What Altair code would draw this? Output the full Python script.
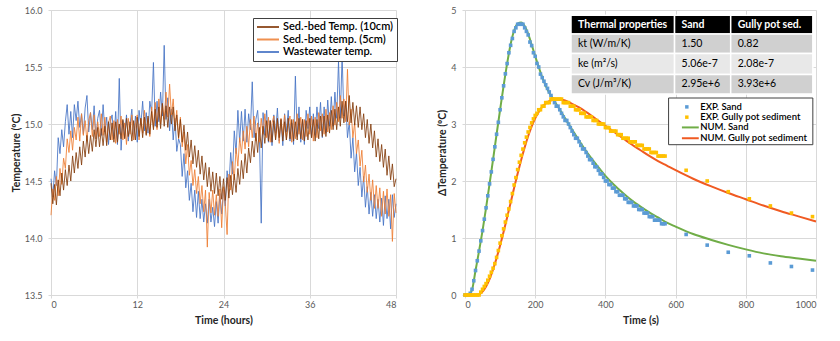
import altair as alt
import pandas as pd

FONT = "Lato"

# ---------------- Left panel: sediment-bed / wastewater temperatures ----------------
LEFT_SERIES = ["Sed.-bed Temp. (10cm)", "Sed.-bed temp. (5cm)", "Wastewater temp."]
LEFT_COLORS = ["#843c0c", "#ed7d31", "#4472c4"]
HOUR_STEP = 0.25
LEFT_X_TICKS = [0, 12, 24, 36, 48]
LEFT_Y_TICKS = [13.5, 14.0, 14.5, 15.0, 15.5, 16.0]

SED_10CM = [
    14.48, 14.30, 14.47, 14.29, 14.51, 14.37, 14.57, 14.42, 14.60, 14.46, 14.64, 14.50,
    14.72, 14.57, 14.75, 14.61, 14.80, 14.64, 14.85, 14.71, 14.90, 14.74, 14.90, 14.76,
    14.95, 14.80, 14.97, 14.80, 14.96, 14.81, 14.98, 14.81, 15.02, 14.86, 15.01, 14.84,
    15.02, 14.84, 15.00, 14.87, 15.04, 14.87, 15.05, 14.89, 15.02, 14.85, 15.03, 14.86,
    15.06, 14.89, 15.05, 14.88, 15.06, 14.90, 15.07, 14.91, 15.11, 14.95, 15.13, 14.97,
    15.15, 14.96, 15.18, 14.98, 15.16, 14.97, 15.15, 15.00, 15.15, 14.94, 15.08, 14.88,
    15.04, 14.84, 14.99, 14.77, 14.93, 14.71, 14.86, 14.65, 14.81, 14.62, 14.77, 14.56,
    14.72, 14.51, 14.66, 14.45, 14.62, 14.41, 14.58, 14.39, 14.57, 14.37, 14.54, 14.34,
    14.52, 14.33, 14.53, 14.35, 14.55, 14.38, 14.56, 14.40, 14.61, 14.47, 14.68, 14.52,
    14.74, 14.57, 14.79, 14.66, 14.85, 14.71, 14.92, 14.75, 14.97, 14.79, 14.98, 14.83,
    15.03, 14.85, 15.03, 14.84, 15.03, 14.86, 15.05, 14.88, 15.04, 14.85, 15.02, 14.86,
    15.05, 14.87, 15.04, 14.85, 15.02, 14.86, 15.05, 14.87, 15.04, 14.85, 15.03, 14.86,
    15.05, 14.88, 15.04, 14.85, 15.04, 14.87, 15.07, 14.89, 15.07, 14.89, 15.08, 14.92,
    15.12, 14.95, 15.13, 14.95, 15.15, 14.98, 15.20, 15.01, 15.20, 15.02, 15.25, 15.01,
    15.19, 14.99, 15.16, 14.97, 15.15, 14.95, 15.09, 14.88, 15.04, 14.83, 15.00, 14.79,
    14.94, 14.71, 14.87, 14.67, 14.82, 14.62, 14.78, 14.55, 14.72, 14.51, 14.65, 14.45,
    14.52,
]
SED_5CM = [
    14.20, 14.43, 14.33, 14.54, 14.37, 14.61, 14.47, 14.70, 14.61, 14.87, 14.75, 14.94,
    14.77, 14.97, 14.86, 15.06, 14.85, 15.09, 14.90, 15.03, 14.85, 15.03, 15.10, 14.89,
    15.08, 14.87, 15.02, 14.89, 15.09, 14.90, 15.06, 14.84, 15.01, 15.07, 14.86, 15.03,
    14.83, 15.04, 14.91, 15.07, 14.86, 15.01, 14.82, 15.05, 14.91, 15.08, 14.86, 15.00,
    15.08, 14.86, 15.05, 14.92, 15.12, 14.91, 15.05, 14.89, 15.15, 14.97, 15.19, 14.95,
    15.22, 15.00, 15.18, 15.04, 15.28, 15.06, 15.35, 15.08, 15.22, 14.98, 15.12, 14.87,
    15.06, 14.80, 14.93, 14.65, 14.82, 14.55, 14.68, 14.46, 14.60, 14.39, 14.54, 14.30,
    14.46, 14.23, 14.42, 13.92, 14.40, 14.22, 14.42, 14.20, 14.38, 14.19, 14.43, 14.09,
    14.45, 14.30, 14.03, 14.56, 14.42, 14.67, 14.51, 14.79, 14.63, 14.88, 14.74, 14.94,
    14.78, 14.98, 14.80, 15.04, 14.88, 15.07, 14.85, 15.01, 14.84, 15.05, 14.91, 15.09,
    14.88, 15.06, 14.84, 15.01, 15.07, 14.87, 15.03, 14.83, 15.05, 14.90, 15.08, 14.86,
    15.00, 15.07, 14.84, 15.04, 14.87, 15.09, 14.91, 15.06, 14.86, 15.04, 14.89, 15.09,
    14.91, 15.07, 14.85, 15.06, 14.88, 15.10, 14.94, 15.09, 14.91, 15.13, 14.93, 15.10,
    14.95, 15.16, 14.99, 15.19, 15.02, 15.25, 15.05, 15.22, 15.02, 15.48, 14.99, 15.13,
    14.88, 15.01, 14.74, 14.86, 14.63, 14.77, 14.49, 14.64, 14.40, 14.56, 14.33, 14.51,
    14.26, 14.46, 14.26, 14.44, 14.19, 14.41, 14.21, 14.43, 14.19, 14.38, 13.97, 14.39,
    14.22,
]
WASTEWATER = [
    14.52, 14.36, 14.59, 14.46, 14.88, 14.74, 14.95, 14.80, 15.02, 15.17, 14.91, 15.11,
    14.88, 15.17, 15.03, 15.20, 14.97, 15.09, 14.91, 15.14, 15.25, 14.93, 15.10, 14.95,
    15.16, 14.87, 15.05, 15.12, 14.90, 15.17, 14.93, 15.06, 14.82, 15.02, 15.08, 14.87,
    15.11, 14.82, 15.40, 14.77, 15.03, 14.88, 15.08, 14.85, 15.00, 15.13, 14.86, 15.07,
    14.84, 15.12, 14.99, 15.20, 14.94, 15.10, 14.92, 15.20, 15.10, 15.54, 14.98, 15.20,
    15.02, 15.28, 15.07, 15.69, 15.04, 15.23, 14.94, 15.13, 14.86, 15.05, 14.76, 14.87,
    14.82, 14.54, 14.74, 14.44, 14.59, 14.33, 14.48, 14.23, 14.42, 14.18, 14.41, 14.17,
    14.34, 14.14, 14.30, 14.13, 14.34, 14.14, 14.27, 14.10, 14.32, 14.13, 14.39, 14.21,
    14.42, 14.28, 14.59, 14.45, 14.75, 14.56, 14.94, 14.74, 15.12, 14.84, 15.11, 14.85,
    15.13, 14.84, 15.09, 14.95, 15.37, 14.88, 15.04, 15.12, 14.88, 14.13, 15.10, 14.90,
    15.12, 14.84, 15.03, 14.81, 15.08, 14.92, 15.14, 14.85, 15.04, 14.81, 15.09, 14.93,
    15.12, 14.85, 15.01, 14.82, 15.42, 14.89, 15.15, 14.84, 15.04, 14.82, 15.12, 14.96,
    15.15, 14.88, 15.09, 14.90, 15.15, 14.96, 15.19, 14.88, 15.15, 14.92, 15.21, 14.98,
    15.24, 14.98, 15.28, 15.05, 15.55, 15.05, 15.60, 15.07, 15.20, 14.88, 15.02, 14.70,
    14.88, 14.58, 14.75, 14.46, 14.62, 14.36, 14.54, 14.27, 14.45, 14.21, 14.40, 14.19,
    14.38, 14.17, 14.34, 14.14, 14.35, 14.11, 14.37, 14.17, 14.34, 14.08, 14.38, 14.18,
    14.30,
]

# ---------------- Right panel: heat-pulse response ----------------
EXP_STEP = 5  # s, dense acquisition
SAND_EXP_DENSE = [
    0, 0, 0, 0.03, 0.1, 0.25, 0.43, 0.6, 0.77, 0.95, 1.13, 1.33, 1.53, 1.74, 1.95, 2.16,
    2.38, 2.6, 2.82, 3.03, 3.25, 3.46, 3.67, 3.88, 4.06, 4.25, 4.38, 4.5, 4.625, 4.6875,
    4.75, 4.75, 4.75, 4.75, 4.6875, 4.625, 4.5625, 4.4375, 4.375, 4.25, 4.1875, 4.0625,
    4.0, 3.875, 3.8125, 3.75, 3.6875, 3.625, 3.5625, 3.5, 3.4375, 3.375, 3.3125, 3.3125,
    3.25, 3.1875, 3.125, 3.0625, 3.0625, 3.0, 2.9375, 2.875, 2.8125, 2.75, 2.75, 2.6875,
    2.625, 2.5625, 2.5625, 2.5, 2.4375, 2.375, 2.375, 2.3125, 2.25, 2.25, 2.1875, 2.125,
    2.125, 2.0625, 2.0, 2.0, 1.9375, 1.9375, 1.875, 1.875, 1.8125, 1.8125, 1.75, 1.75,
    1.75, 1.6875, 1.6875, 1.625, 1.625, 1.625, 1.5625, 1.5625, 1.5625, 1.5, 1.5, 1.5,
    1.4375, 1.4375, 1.4375, 1.375, 1.375, 1.375, 1.3125, 1.3125, 1.3125, 1.3125, 1.25,
    1.25, 1.25,
]
GULLY_EXP_DENSE = [
    0, 0, 0, 0, 0, 0, 0, 0, 0, 0.05, 0.1, 0.15, 0.2, 0.26, 0.33, 0.4, 0.47, 0.55, 0.66,
    0.78, 0.91, 1.04, 1.16, 1.28, 1.4, 1.51, 1.64, 1.78, 1.93, 2.06, 2.2, 2.33, 2.45, 2.56,
    2.67, 2.77, 2.86, 2.94, 3.02, 3.09, 3.15, 3.1875, 3.25, 3.25, 3.3125, 3.3125, 3.375,
    3.375, 3.375, 3.4375, 3.4375, 3.4375, 3.4375, 3.4375, 3.4375, 3.4375, 3.375, 3.375,
    3.375, 3.375, 3.3125, 3.3125, 3.3125, 3.25, 3.25, 3.25, 3.1875, 3.1875, 3.1875, 3.125,
    3.125, 3.125, 3.125, 3.0625, 3.0625, 3.0625, 3.0, 3.0, 3.0, 3.0, 2.9375, 2.9375,
    2.9375, 2.875, 2.875, 2.875, 2.875, 2.8125, 2.8125, 2.8125, 2.75, 2.75, 2.75, 2.75,
    2.6875, 2.6875, 2.6875, 2.6875, 2.625, 2.625, 2.625, 2.625, 2.5625, 2.5625, 2.5625,
    2.5625, 2.5, 2.5, 2.5, 2.5, 2.4375, 2.4375, 2.4375, 2.4375, 2.4375,
]
SPARSE_T = [630, 690, 750, 810, 870, 930, 990]
SAND_EXP_SPARSE = [1.0625, 0.875, 0.75, 0.6875, 0.5625, 0.5, 0.4375]
GULLY_EXP_SPARSE = [2.1875, 2.0, 1.8125, 1.6875, 1.5625, 1.4375, 1.375]

SAND_NUM_T = [0, 10, 20, 30, 40, 50, 60, 70, 80, 90, 100, 110, 120, 130, 140, 150, 160,
              170, 180, 190, 200, 210, 220, 230, 240, 250, 275, 300, 325, 350, 375, 400,
              425, 450, 475, 500, 525, 550, 575, 600, 650, 700, 750, 800, 850, 900, 950, 1000]
SAND_NUM = [0, 0, 0.09, 0.43, 0.77, 1.13, 1.53, 1.95, 2.38, 2.82, 3.25, 3.67, 4.06, 4.4,
            4.64, 4.76, 4.78, 4.72, 4.58, 4.39, 4.19, 4.0, 3.82, 3.67, 3.55, 3.45, 3.2,
            2.95, 2.71, 2.48, 2.28, 2.09, 1.93, 1.79, 1.66, 1.55, 1.45, 1.36, 1.27, 1.2,
            1.07, 0.97, 0.88, 0.8, 0.73, 0.68, 0.64, 0.6]
GULLY_NUM_T = [0, 20, 40, 50, 60, 70, 80, 90, 100, 110, 120, 130, 140, 150, 160, 170, 180,
               190, 200, 210, 220, 230, 240, 250, 260, 270, 280, 290, 300, 325, 350, 375,
               400, 425, 450, 475, 500, 525, 550, 575, 600, 650, 700, 750, 800, 850, 900,
               950, 1000]
GULLY_NUM = [0, 0, 0.01, 0.06, 0.15, 0.28, 0.45, 0.65, 0.87, 1.11, 1.36, 1.62, 1.88, 2.13,
             2.37, 2.59, 2.79, 2.96, 3.1, 3.21, 3.3, 3.36, 3.4, 3.42, 3.43, 3.43, 3.42, 3.4,
             3.37, 3.29, 3.19, 3.08, 2.97, 2.86, 2.75, 2.64, 2.54, 2.44, 2.35, 2.27, 2.19,
             2.04, 1.91, 1.79, 1.68, 1.57, 1.47, 1.38, 1.29]

RIGHT_SERIES = ["EXP. Sand", "EXP. Gully pot sediment", "NUM. Sand", "NUM. Gully pot sediment"]
RIGHT_COLORS = ["#5b9bd5", "#ffc000", "#70ad47", "#f05a22"]
RIGHT_X_TICKS = [0, 200, 400, 600, 800, 1000]
RIGHT_Y_TICKS = [0, 1, 2, 3, 4, 5]

TABLE_HEADER = ["Thermal properties", "Sand", "Gully pot sed."]
TABLE_ROWS = [
    ["kt (W/m/K)", "1.50", "0.82"],
    ["ke (m\u00b2/s)", "5.06e-7", "2.08e-7"],
    ["Cv (J/m\u00b3/K)", "2.95e+6", "3.93e+6"],
]
TABLE_FILLS = ["#000000", "#d0d0d0", "#e8e8e8", "#d0d0d0"]

# layout of the in-plot table and legend, in the right panel's data units
TABLE_COL_EDGES = [302, 597, 757, 991]
TABLE_ROW_EDGES = [4.91, 4.58, 4.235, 3.87, 3.525]
TABLE_TEXT_PAD = 20
RLEG_BOX = (580, 991, 2.637, 3.456)
RLEG_ROWS = [3.30, 3.12, 2.94, 2.75]
RLEG_SYMBOL_X = (618, 632, 666)
RLEG_TEXT_X = 670

# ---------------- build left chart ----------------
rows = []
for name, vals in zip(LEFT_SERIES, [SED_10CM, SED_5CM, WASTEWATER]):
    for i, v in enumerate(vals):
        rows.append({"hour": i * HOUR_STEP, "temp": v, "series": name})
left_df = pd.DataFrame(rows)

lx = alt.X("hour:Q", scale=alt.Scale(domain=[0, 48], nice=False, zero=False),
           axis=alt.Axis(values=LEFT_X_TICKS, title="Time (hours)"))
ly = alt.Y("temp:Q", scale=alt.Scale(domain=[13.5, 16], nice=False, zero=False),
           axis=alt.Axis(values=LEFT_Y_TICKS, format=".1f", title="Temperature (ºC)"))
left_legend = alt.Legend(
    title=None, orient="none", legendX=202, legendY=8, direction="vertical",
    symbolType="stroke", symbolSize=484, symbolStrokeWidth=2,
    labelFont=FONT, labelFontSize=11, labelColor="#000000", labelFontWeight=600,
    padding=3, strokeColor="#404040", fillColor="#ffffff", rowPadding=0.5,
    clipHeight=12, labelOffset=3, symbolOffset=0, cornerRadius=0,
)
lcolor = alt.Color("series:N", scale=alt.Scale(domain=LEFT_SERIES, range=LEFT_COLORS),
                   legend=left_legend)

left_layers = []
for name in [LEFT_SERIES[2], LEFT_SERIES[1], LEFT_SERIES[0]]:
    left_layers.append(
        alt.Chart(left_df)
        .transform_filter(alt.datum.series == name)
        .mark_line(strokeWidth=1, opacity=0.85)
        .encode(x=lx, y=ly, color=lcolor, order=alt.Order("hour:Q"))
    )
left = alt.layer(*left_layers).properties(width=345, height=285)

# ---------------- build right chart ----------------
pts = []
for name, dense, sparse in [(RIGHT_SERIES[0], SAND_EXP_DENSE, SAND_EXP_SPARSE),
                            (RIGHT_SERIES[1], GULLY_EXP_DENSE, GULLY_EXP_SPARSE)]:
    for i, v in enumerate(dense):
        pts.append({"time": i * EXP_STEP, "val": v, "cat": name})
    for t, v in zip(SPARSE_T, sparse):
        pts.append({"time": t, "val": v, "cat": name})
pts_df = pd.DataFrame(pts)

lines = []
for name, ts, vs in [(RIGHT_SERIES[2], SAND_NUM_T, SAND_NUM),
                     (RIGHT_SERIES[3], GULLY_NUM_T, GULLY_NUM)]:
    for t, v in zip(ts, vs):
        lines.append({"time": t, "val": v, "cat": name})
lines_df = pd.DataFrame(lines)

rx = alt.X("time:Q", scale=alt.Scale(domain=[0, 1000], nice=False),
           axis=alt.Axis(values=RIGHT_X_TICKS, format="d", title="Time (s)"))
ry = alt.Y("val:Q", scale=alt.Scale(domain=[0, 5], nice=False),
           axis=alt.Axis(values=RIGHT_Y_TICKS, format="d", title="ΔTemperature (ºC)"))
rcolor = alt.Color("cat:N", scale=alt.Scale(domain=RIGHT_SERIES, range=RIGHT_COLORS),
                   legend=None)

lines_layer = alt.Chart(lines_df).mark_line(strokeWidth=2, interpolate="monotone").encode(
    x=rx, y=ry, color=rcolor, detail="cat:N")
points_layer = alt.Chart(pts_df).mark_square(size=13, opacity=1).encode(
    x=rx, y=ry, color=rcolor)

# table cells
cells = []
texts = []
all_rows = [TABLE_HEADER] + TABLE_ROWS
for r, row in enumerate(all_rows):
    for c, label in enumerate(row):
        cells.append({"time": TABLE_COL_EDGES[c], "time2": TABLE_COL_EDGES[c + 1],
                      "val": TABLE_ROW_EDGES[r], "val2": TABLE_ROW_EDGES[r + 1],
                      "fill": TABLE_FILLS[r]})
        texts.append({"time": TABLE_COL_EDGES[c] + TABLE_TEXT_PAD,
                      "val": (TABLE_ROW_EDGES[r] + TABLE_ROW_EDGES[r + 1]) / 2,
                      "label": label, "header": r == 0})
cells_df = pd.DataFrame(cells)
texts_df = pd.DataFrame(texts)

table_rect = alt.Chart(cells_df).mark_rect(stroke="#ffffff", strokeWidth=1.5).encode(
    x=rx, x2="time2:Q", y=ry, y2="val2:Q", fill=alt.Fill("fill:N", scale=None))
table_head = alt.Chart(texts_df).transform_filter(alt.datum.header).mark_text(
    align="left", baseline="middle", font=FONT, fontSize=10.5, fontWeight="bold",
    color="#ffffff").encode(x=rx, y=ry, text="label:N")
table_body = alt.Chart(texts_df).transform_filter(~alt.datum.header).mark_text(
    align="left", baseline="middle", font=FONT, fontSize=10.5, color="#000000").encode(
    x=rx, y=ry, text="label:N")

# manual legend for the mixed point / line series
leg_box_df = pd.DataFrame([{"time": RLEG_BOX[0], "time2": RLEG_BOX[1],
                            "val": RLEG_BOX[2], "val2": RLEG_BOX[3]}])
leg_box = alt.Chart(leg_box_df).mark_rect(fill="#ffffff", stroke="#404040",
                                          strokeWidth=1).encode(
    x=rx, x2="time2:Q", y=ry, y2="val2:Q")
leg_pts_df = pd.DataFrame([{"time": RLEG_SYMBOL_X[1], "val": RLEG_ROWS[i],
                            "cat": RIGHT_SERIES[i]} for i in range(2)])
leg_pts = alt.Chart(leg_pts_df).mark_square(size=12, opacity=1).encode(
    x=rx, y=ry, color=rcolor)
leg_lines_df = pd.DataFrame([{"time": RLEG_SYMBOL_X[0], "time2": RLEG_SYMBOL_X[2],
                              "val": RLEG_ROWS[i], "cat": RIGHT_SERIES[i]}
                             for i in range(2, 4)])
leg_lines = alt.Chart(leg_lines_df).mark_rule(strokeWidth=2).encode(
    x=rx, x2="time2:Q", y=ry, color=rcolor)
leg_text_df = pd.DataFrame([{"time": RLEG_TEXT_X, "val": RLEG_ROWS[i],
                             "label": RIGHT_SERIES[i]} for i in range(4)])
leg_text = alt.Chart(leg_text_df).mark_text(
    align="left", baseline="middle", font=FONT, fontSize=9.5, fontWeight=600,
    color="#000000").encode(x=rx, y=ry, text="label:N")

right = alt.layer(lines_layer, points_layer, table_rect, table_head, table_body,
                  leg_box, leg_pts, leg_lines, leg_text).properties(width=351, height=285)

chart = (
    alt.hconcat(left, right, spacing=39)
    .resolve_scale(color="independent")
    .resolve_legend(color="independent")
    .properties(padding={"left": 11, "top": 6, "right": 0, "bottom": 0}, background="#ffffff")
    .configure_view(stroke=None)
    .configure_axis(
        labelFont=FONT, labelFontSize=9, labelColor="#595959",
        titleFont=FONT, titleFontSize=10.5, titleFontWeight="bold", titleColor="#262626",
        grid=True, gridColor="#d9d9d9", domainColor="#d9d9d9", tickColor="#d9d9d9",
        tickSize=3, labelPadding=6, titlePadding=3,
    )
    .configure_axisX(labelPadding=2, titlePadding=6)
)

chart.save("out.html", embed_options={"renderer": "svg", "actions": False})
